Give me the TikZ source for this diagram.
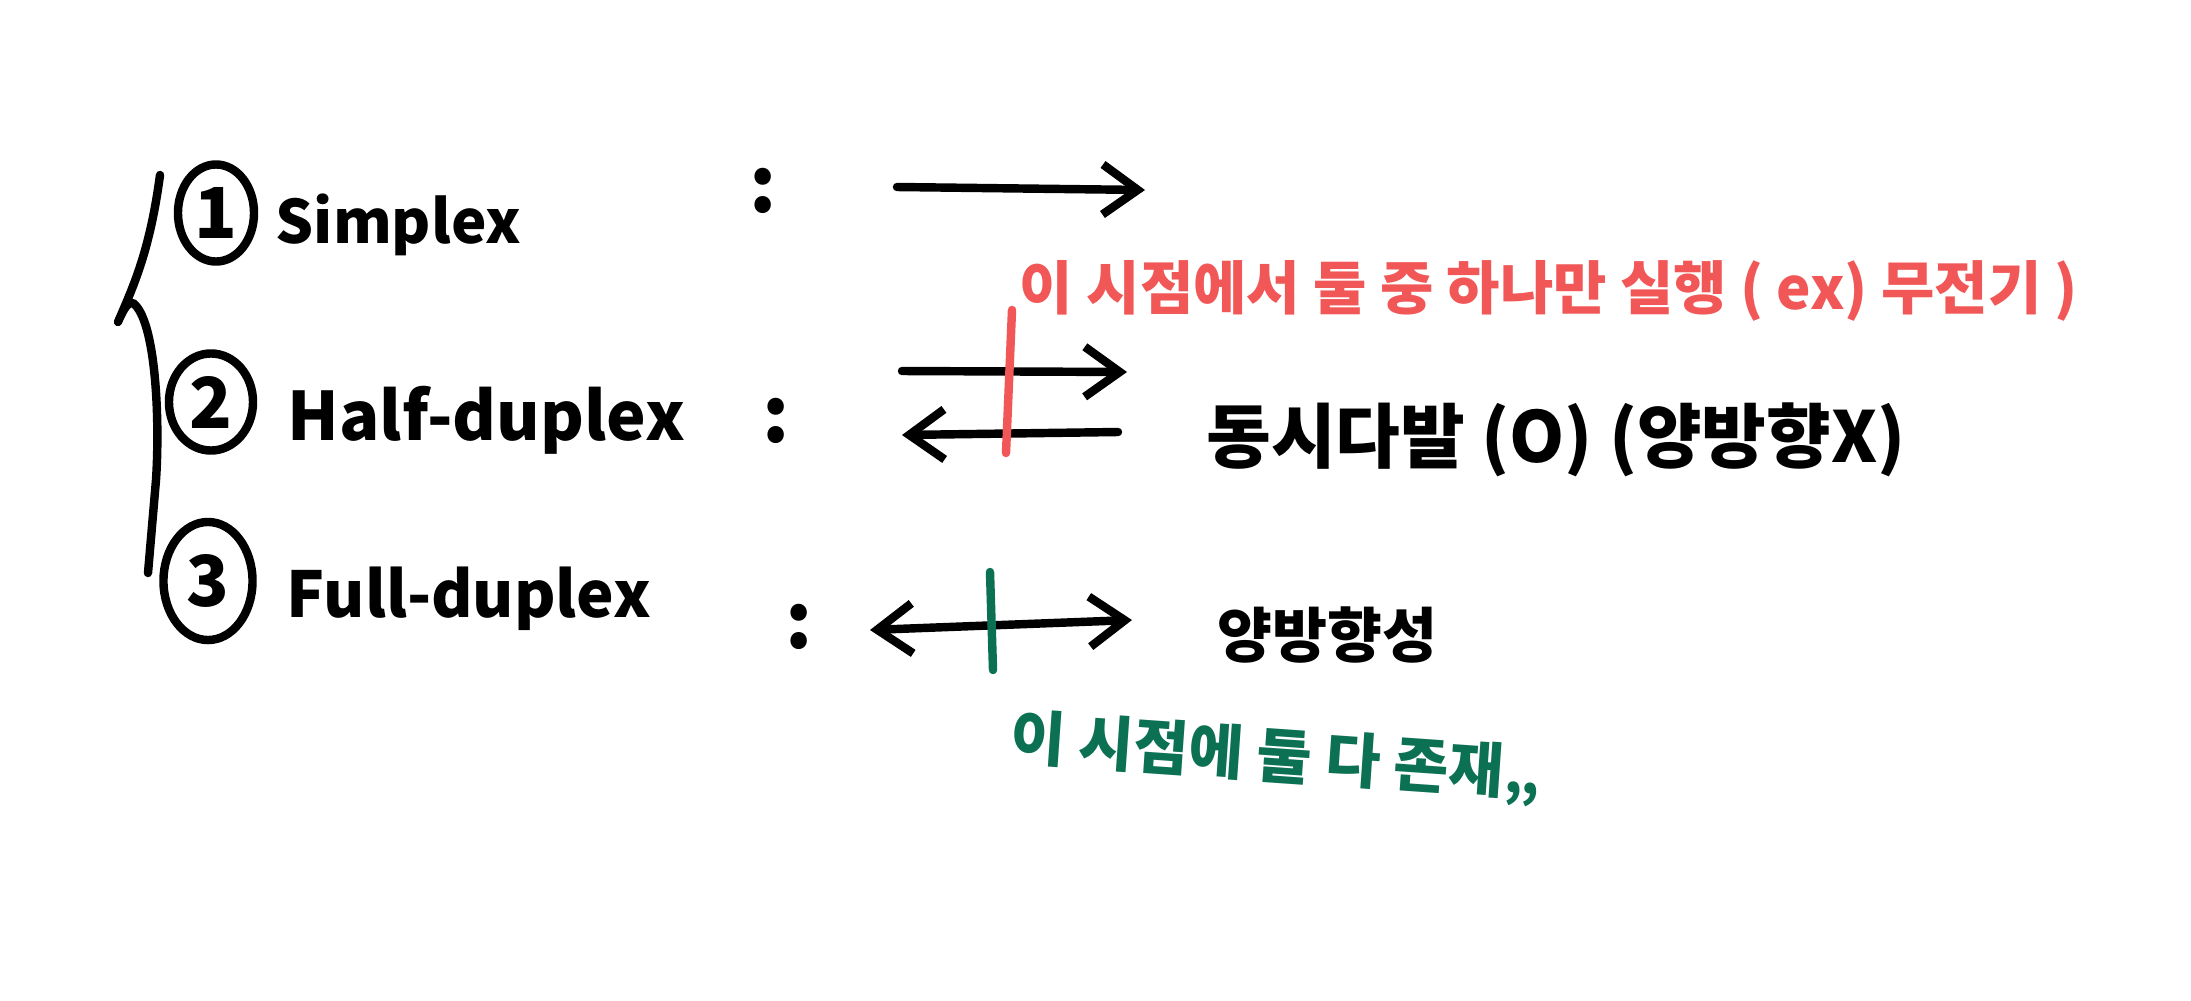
\documentclass[tikz,border=0pt]{standalone}
\usepackage{fontspec}
\setmainfont{Noto Sans CJK KR}
\usetikzlibrary{arrows.meta,shapes.geometric}
\definecolor{notered}{RGB}{241,87,87}
\definecolor{notegreen}{RGB}{12,113,82}
\tikzset{
  ink/.style={line width=2.4pt, line cap=round, line join=round},
  sig/.style={ink, -{Straight Barb[length=3.5mm,width=5mm]}},
  sigboth/.style={ink, {Straight Barb[length=3.5mm,width=5mm]}-{Straight Barb[length=3.5mm,width=5mm]}},
  numoval/.style={draw, ellipse, ink, inner sep=0pt, font=\fontsize{20}{22}\selectfont\bfseries},
  modelabel/.style={anchor=base west, inner sep=0pt, font=\fontsize{#1}{#1}\selectfont\bfseries},
  colon/.style={anchor=base, inner sep=0pt, font=\fontsize{22}{24}\selectfont\bfseries},
  note/.style={inner sep=0pt, font=\fontsize{#1}{#1}\selectfont\bfseries}
}
\begin{document}
\begin{tikzpicture}[x=0.01cm,y=-0.01cm]
\useasboundingbox[fill=white] (0,0) rectangle (2191,1000);
% brace
\draw[ink] (160,175) .. controls (150,250) and (134,285) .. (118,322)
  .. controls (124,308) and (128,302) .. (133,303)
  .. controls (156,320) and (160,420) .. (156,480) -- (148,573);
% the three modes
\node[numoval, minimum width=0.76cm, minimum height=0.97cm] (n1) at (216,213) {1};
\node[modelabel=17] (simplex) at (275,243) {Simplex};
\node[numoval, minimum width=0.84cm, minimum height=0.97cm] (n2) at (211,402) {2};
\node[modelabel=19] (half) at (287,440) {Half-duplex};
\node[numoval, minimum width=0.89cm, minimum height=1.18cm] (n3) at (208,581) {3};
\node[modelabel=18] (full) at (286,617) {Full-duplex};
\node[colon] (c1) at (763,212) {:};
\node[colon] (c2) at (776,442) {:};
\node[colon] (c3) at (799,648) {:};
% arrows
\coordinate (a1s) at (897,187);
\coordinate (a1e) at (1145,190);
\draw[sig] (a1s) -- (a1e);
\coordinate (a2s) at (902,371);
\coordinate (a2e) at (1127,372);
\draw[sig] (a2s) -- (a2e);
\coordinate (b2s) at (1118,432);
\coordinate (b2e) at (902,435);
\draw[sig] (b2s) -- (b2e);
\coordinate (a3s) at (870,630);
\coordinate (a3e) at (1132,620);
\draw[sigboth] (a3s) -- (a3e);
% time marks
\coordinate (r1) at (1012,310);
\coordinate (r2) at (1006,453);
\draw[ink, notered] (r1) -- (r2);
\coordinate (g1) at (990,572);
\coordinate (g2) at (993,670);
\draw[ink, notegreen] (g1) -- (g2);
% notes
\node[note=16.5, text=notered] (rednote) at (1549,291) {이 시점에서 둘 중 하나만 실행 ( ex) 무전기 )};
\node[note=20] (halfnote) at (1556,440) {동시다발 (O) (양방향X)};
\node[note=17] (fullnote) at (1327,635) {양방향성};
\node[note=17, text=notegreen, rotate=-4] (greennote) at (1276,758) {이 시점에 둘 다 존재,,};
\end{tikzpicture}
\end{document}
